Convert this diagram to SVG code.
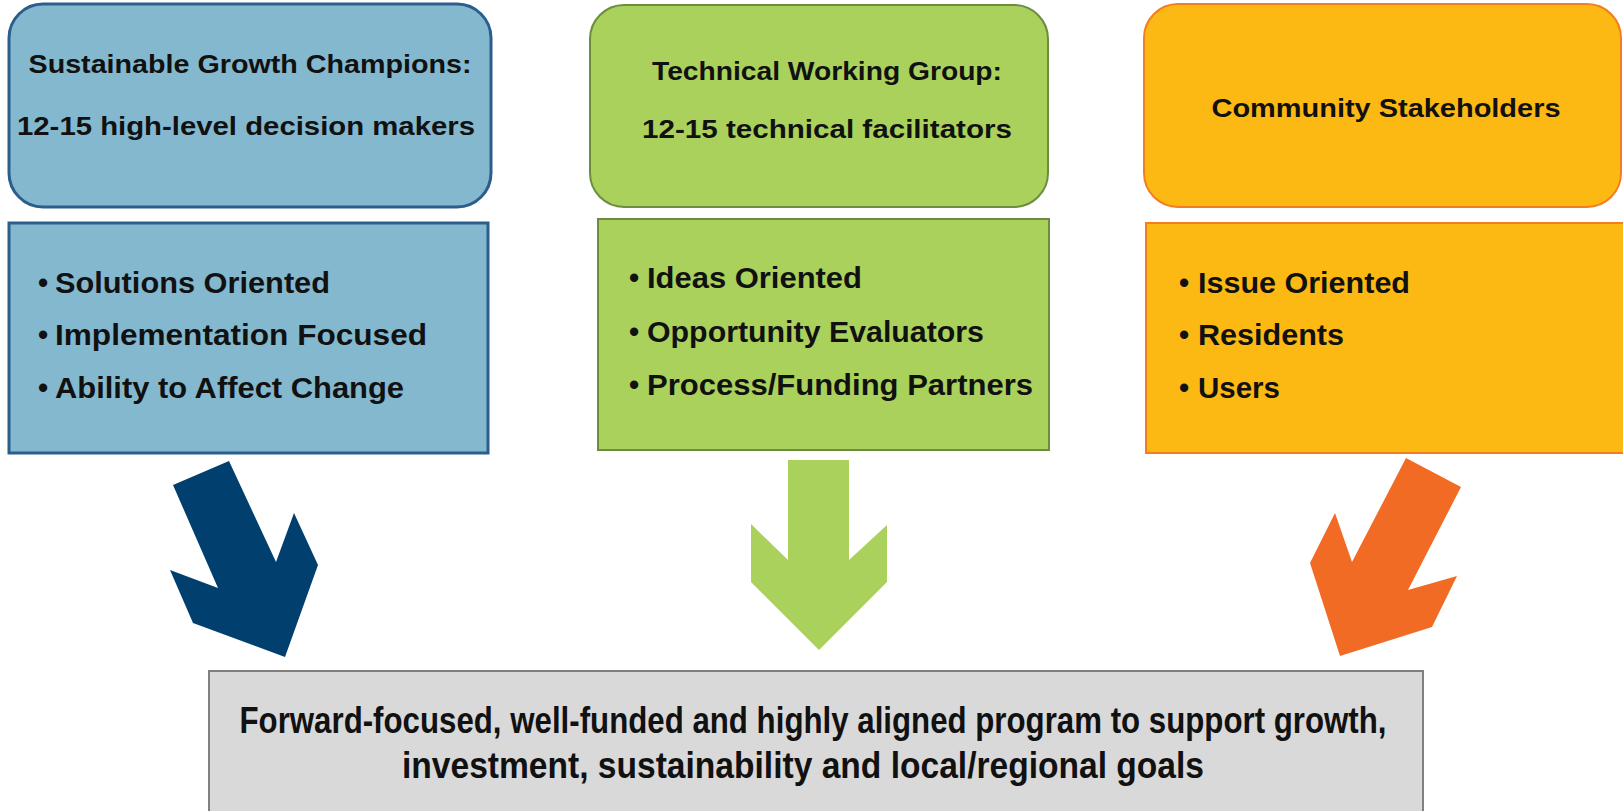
<svg xmlns="http://www.w3.org/2000/svg" width="1623" height="811" viewBox="0 0 1623 811">
<style>
.h{font-family:"Liberation Sans",Arial,sans-serif;font-weight:bold;font-size:25px;fill:#111;}
.b{font-family:"Liberation Sans",Arial,sans-serif;font-weight:bold;font-size:29px;fill:#111;}
.f{font-family:"Liberation Sans Narrow","Liberation Sans",Arial,sans-serif;font-weight:bold;font-size:36px;fill:#111;}
.blue{fill:#84B8CE;stroke:#2C5E8C;stroke-width:3;}
.green{fill:#A9D15B;stroke:#6C8C40;stroke-width:2;}
.orange{fill:#FDB913;stroke:#F47D20;stroke-width:2;}
</style>
<rect width="1623" height="811" fill="#fff"/>
<g id="champions">
<rect class="blue" x="9" y="4" width="482" height="203" rx="34"/>
<text class="h" x="250" y="73" text-anchor="middle" textLength="443" lengthAdjust="spacingAndGlyphs">Sustainable Growth Champions:</text>
<text class="h" x="246" y="135" text-anchor="middle" textLength="458" lengthAdjust="spacingAndGlyphs">12-15 high-level decision makers</text>
</g>
<g id="champions-traits">
<rect class="blue" x="9" y="223" width="479" height="230"/>
<text class="b" x="38" y="293">•</text><text class="b" x="55" y="293" textLength="275" lengthAdjust="spacingAndGlyphs">Solutions Oriented</text>
<text class="b" x="38" y="345">•</text><text class="b" x="55" y="345" textLength="372" lengthAdjust="spacingAndGlyphs">Implementation Focused</text>
<text class="b" x="38" y="398">•</text><text class="b" x="55" y="398" textLength="349" lengthAdjust="spacingAndGlyphs">Ability to Affect Change</text>
</g>
<g id="technical">
<rect class="green" x="590" y="5" width="458" height="202" rx="34"/>
<text class="h" x="827" y="80" text-anchor="middle" textLength="350" lengthAdjust="spacingAndGlyphs">Technical Working Group:</text>
<text class="h" x="827" y="138" text-anchor="middle" textLength="370" lengthAdjust="spacingAndGlyphs">12-15 technical facilitators</text>
</g>
<g id="technical-traits">
<rect class="green" x="598" y="219" width="451" height="231"/>
<text class="b" x="629" y="288">•</text><text class="b" x="647" y="288" textLength="215" lengthAdjust="spacingAndGlyphs">Ideas Oriented</text>
<text class="b" x="629" y="342">•</text><text class="b" x="647" y="342" textLength="337" lengthAdjust="spacingAndGlyphs">Opportunity Evaluators</text>
<text class="b" x="629" y="395">•</text><text class="b" x="647" y="395" textLength="386" lengthAdjust="spacingAndGlyphs">Process/Funding Partners</text>
</g>
<g id="community">
<rect class="orange" x="1144" y="4" width="477" height="203" rx="34"/>
<text class="h" x="1386" y="117" text-anchor="middle" textLength="349" lengthAdjust="spacingAndGlyphs">Community Stakeholders</text>
</g>
<g id="community-traits">
<rect class="orange" x="1146" y="223" width="482" height="230"/>
<text class="b" x="1179" y="293">•</text><text class="b" x="1198" y="293" textLength="212" lengthAdjust="spacingAndGlyphs">Issue Oriented</text>
<text class="b" x="1179" y="345">•</text><text class="b" x="1198" y="345" textLength="146" lengthAdjust="spacingAndGlyphs">Residents</text>
<text class="b" x="1179" y="398">•</text><text class="b" x="1198" y="398" textLength="82" lengthAdjust="spacingAndGlyphs">Users</text>
</g>
<g id="connectors">
<polygon fill="#003F6E" points="173,485 229,461 276,562 294,513 318,565 285,657 193,623 170,570 218,588"/>
<polygon fill="#A9D15B" points="788,460 849,460 849,560 887,525 887,582 819,650 751,582 751,524 788,560"/>
<polygon fill="#F26B25" points="1406,458 1461,487 1408,590 1457,576 1432,627 1340,656 1310,563 1335,513 1352,562"/>
</g>
<g id="outcome">
<rect x="209" y="671" width="1214" height="145" fill="#D9D9D9" stroke="#7F7F7F" stroke-width="2"/>
<text class="f" x="813" y="733" text-anchor="middle" textLength="1147" lengthAdjust="spacingAndGlyphs">Forward-focused, well-funded and highly aligned program to support growth,</text>
<text class="f" x="803" y="778" text-anchor="middle" textLength="802" lengthAdjust="spacingAndGlyphs">investment, sustainability and local/regional goals</text>
</g>
</svg>
